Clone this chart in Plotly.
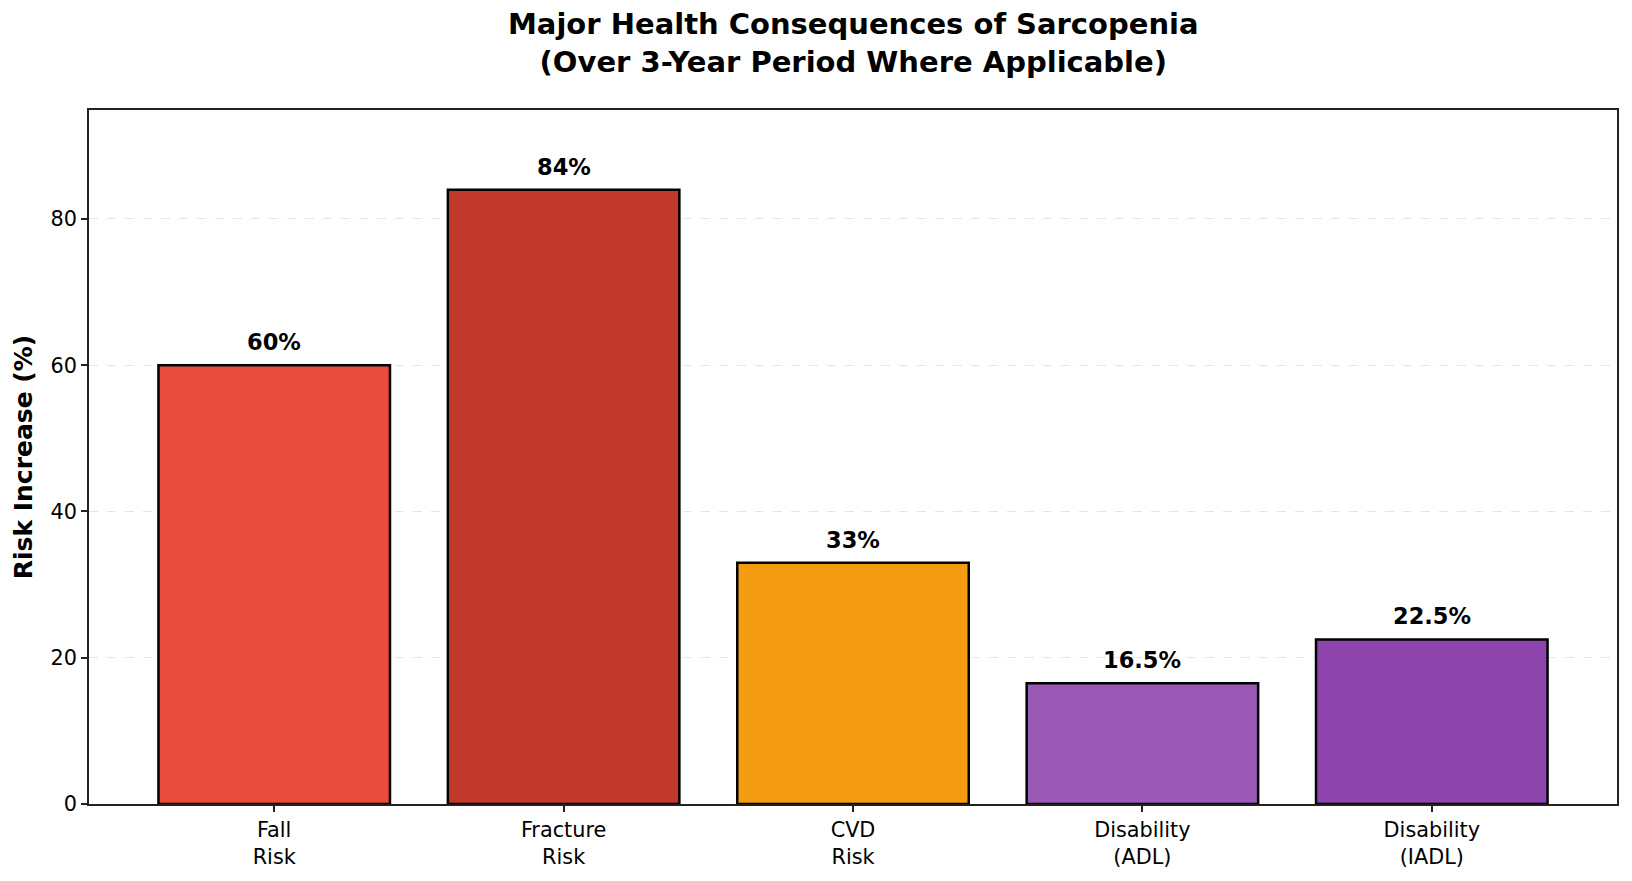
import plotly.graph_objects as go

categories = ["Fall<br>Risk", "Fracture<br>Risk", "CVD<br>Risk", "Disability<br>(ADL)", "Disability<br>(IADL)"]
values = [60, 84, 33, 16.5, 22.5]
labels = ["60%", "84%", "33%", "16.5%", "22.5%"]
colors = ["#e74c3c", "#c0392b", "#f39c12", "#9b59b6", "#8e44ad"]
y_ticks = [0, 20, 40, 60, 80]
title_text = "Major Health Consequences of Sarcopenia<br>(Over 3-Year Period Where Applicable)"

FONT = "DejaVu Sans"
x_idx = list(range(len(categories)))

fig = go.Figure()
fig.add_trace(go.Bar(
    x=x_idx, y=values, width=0.8,
    marker=dict(color=colors, line=dict(color="#000000", width=2.5)),
    showlegend=False, hoverinfo="skip",
))

for xi, v, t in zip(x_idx, values, labels):
    fig.add_annotation(x=xi, y=v, text=f"<b>{t}</b>", showarrow=False,
                       yanchor="bottom", yshift=8,
                       font=dict(family=FONT, size=22.5, color="#000000"))

fig.add_annotation(x=0.5, y=1.096, xref="paper", yref="paper", text=f"<b>{title_text}</b>",
                   showarrow=False, xanchor="center", yanchor="middle",
                   font=dict(family=FONT, size=29, color="#000000"))

fig.update_layout(
    width=1632, height=881,
    margin=dict(l=89, r=15, t=110, b=73),
    paper_bgcolor="white", plot_bgcolor="white",
    font=dict(family=FONT, color="#000000"),
    bargap=0.2,
)

fig.update_xaxes(
    range=[-0.64, 4.64], tickvals=x_idx, ticktext=categories,
    showline=True, linecolor="#222222", linewidth=1.8, mirror=True,
    ticks="outside", ticklen=6, tickwidth=1.8, tickcolor="#222222",
    showgrid=False, zeroline=False,
    tickfont=dict(family=FONT, size=20.8, color="#000000"),
)
fig.update_yaxes(
    range=[0, 94.9], tickvals=y_ticks,
    showline=True, linecolor="#222222", linewidth=1.8, mirror=True,
    ticks="outside", ticklen=6, tickwidth=1.8, tickcolor="#222222",
    showgrid=True, gridcolor="#e6e6e6", griddash="dash", gridwidth=1.2,
    zeroline=False,
    tickfont=dict(family=FONT, size=20.8, color="#000000"),
    title=dict(text="<b>Risk Increase (%)</b>", standoff=11,
               font=dict(family=FONT, size=25, color="#000000")),
)

fig.write_html("out.html")
